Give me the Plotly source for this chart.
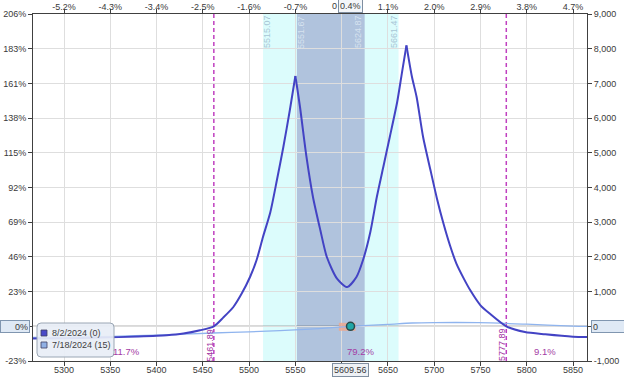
import plotly.graph_objects as go

# ---------------- data ----------------
price_ticks = [5300, 5350, 5400, 5450, 5500, 5550, 5600, 5650, 5700, 5750, 5800, 5850]
pct_ticks = ["-5.2%", "-4.3%", "-3.4%", "-2.5%", "-1.6%", "-0.7%", "", "1.1%", "2.0%", "2.9%", "3.8%", "4.7%"]
pl_ticks = [-1000, 0, 1000, 2000, 3000, 4000, 5000, 6000, 7000, 8000, 9000]
pl_pct_labels = ["-23%", "", "23%", "46%", "69%", "92%", "115%", "138%", "161%", "183%", "206%"]
pl_num_labels = ["-1,000", "", "1,000", "2,000", "3,000", "4,000", "5,000", "6,000", "7,000", "8,000", "9,000"]

# expiration curve 8/2/2024 (0)
exp_price = [5266, 5300, 5339, 5380, 5411, 5429, 5447, 5461.89, 5472, 5483, 5492, 5501, 5508,
             5515, 5523, 5530, 5537, 5544, 5550, 5555, 5562, 5569, 5577, 5584, 5595, 5606,
             5616, 5623, 5631, 5638, 5645, 5652, 5660, 5665, 5670, 5676, 5681, 5688, 5696,
             5703, 5710, 5717, 5724, 5732, 5739, 5750, 5760, 5777.89, 5798, 5820, 5850, 5866]
exp_pl = [-355, -345, -326, -295, -259, -210, -115, 0, 250, 556, 942, 1420, 1902,
          2574, 3295, 4207, 5167, 6225, 7213, 6320, 4880, 3727, 2767, 1997, 1374, 1133,
          1421, 1902, 2718, 3726, 4591, 5455, 6464, 7282, 8098, 7184, 6608, 5455, 4496,
          3679, 2960, 2334, 1807, 1374, 1037, 605, 366, 0, -164, -230, -300, -312]

# today curve 7/18/2024 (15)
t0_price = [5266, 5300, 5353, 5400, 5461, 5500, 5566, 5609.56, 5650, 5676, 5700, 5748, 5800, 5850, 5866]
t0_pl = [-320, -310, -288, -255, -193, -160, -80, 0, 55, 95, 107, 105, 60, 5, -5]

current_price = [5609.56]
current_pl = [0]

breakevens = [5461.89, 5777.89]
be_labels = ["5461.89", "5777.89"]
inner_range = [5551.67, 5624.87]
outer_range = [5515.07, 5661.47]
zone_pct = ["11.7%", "79.2%", "9.1%"]
zone_pct_x = [5368, 5620, 5820]

# ---------------- figure ----------------
W, H = 624, 377
ML, MR, MT, MB = 33, 37, 14, 16
X0, X1 = 5266.5, 5865.1
Y0, Y1 = -1000, 9000
FONT = "Liberation Sans, Arial, sans-serif"
TXT = "#3a3a3a"

fig = go.Figure()

fig.add_trace(go.Scatter(x=t0_price, y=t0_pl, mode="lines", line_shape="spline",
                         line=dict(color="#8fb4ee", width=1.3, smoothing=0.8), showlegend=False,
                         hoverinfo="skip"))
# split the expiration curve at the two peaks so the cusps stay sharp
peak_idx = [i for i in range(1, len(exp_pl) - 1) if exp_pl[i] > exp_pl[i - 1] and exp_pl[i] > exp_pl[i + 1]]
bounds = [0] + peak_idx + [len(exp_pl) - 1]
for a, b in zip(bounds[:-1], bounds[1:]):
    fig.add_trace(go.Scatter(x=exp_price[a:b + 1], y=exp_pl[a:b + 1], mode="lines", line_shape="spline",
                             line=dict(color="#4343c4", width=2, smoothing=0.7), showlegend=False,
                             hoverinfo="skip"))
fig.add_trace(go.Scatter(x=current_price, y=current_pl, mode="markers",
                         marker=dict(color="#1fa7a7", size=8, line=dict(color="#2a4a4a", width=1.5)),
                         showlegend=False, hoverinfo="skip"))
fig.add_trace(go.Scatter(x=[X0, X1], y=[0, 0], xaxis="x2", yaxis="y2", mode="lines",
                         line=dict(width=0), showlegend=False, hoverinfo="skip"))

shapes = []
shapes.append(dict(type="rect", xref="x", yref="paper", x0=outer_range[0], x1=outer_range[1],
                   y0=0, y1=1, fillcolor="#dcfcfc", line=dict(width=0), layer="below"))
shapes.append(dict(type="rect", xref="x", yref="paper", x0=inner_range[0], x1=inner_range[1],
                   y0=0, y1=1, fillcolor="#b0c3dd", line=dict(width=0), layer="below"))
shapes.append(dict(type="rect", xref="x", yref="y", x0=5597, x1=5615, y0=-130, y1=100,
                   fillcolor="#eda88f", opacity=0.85, line=dict(width=0), layer="between"))
shapes.append(dict(type="line", xref="paper", yref="y", x0=0, x1=1, y0=0, y1=0,
                   line=dict(color="#404040", width=1), layer="between"))
for b in breakevens:
    shapes.append(dict(type="line", xref="x", yref="paper", x0=b, x1=b, y0=0, y1=1,
                       line=dict(color="#c040c0", width=1.5, dash="4px,3px"), layer="between"))

def px(xp):
    return (xp - ML) / (W - ML - MR)
def py(yp):
    return (H - MB - yp) / (H - MT - MB)

lx0, lx1, ly0, ly1, r = 37, 114, 323, 357, 4
path = (f"M {px(lx0+r)},{py(ly0)} L {px(lx1-r)},{py(ly0)} Q {px(lx1)},{py(ly0)} {px(lx1)},{py(ly0+r)} "
        f"L {px(lx1)},{py(ly1-r)} Q {px(lx1)},{py(ly1)} {px(lx1-r)},{py(ly1)} "
        f"L {px(lx0+r)},{py(ly1)} Q {px(lx0)},{py(ly1)} {px(lx0)},{py(ly1-r)} "
        f"L {px(lx0)},{py(ly0+r)} Q {px(lx0)},{py(ly0)} {px(lx0+r)},{py(ly0)} Z")
shapes.append(dict(type="path", xref="paper", yref="paper", path=path,
                   fillcolor="rgba(232,238,246,0.92)", line=dict(color="#9aa6b4", width=1), layer="above"))
legend_colors = ["#4a4ac8", "#90b0e4"]
legend_names = ["8/2/2024 (0)", "7/18/2024 (15)"]
legend_y = [333, 345]
for c, yy in zip(legend_colors, legend_y):
    shapes.append(dict(type="rect", xref="paper", yref="paper", x0=px(41), x1=px(47),
                       y0=py(yy + 3), y1=py(yy - 3), fillcolor=c,
                       line=dict(color="#404060", width=0.8), layer="above"))

annotations = []
for n, yy in zip(legend_names, legend_y):
    annotations.append(dict(xref="paper", yref="paper", x=px(50), y=py(yy), text=n,
                            showarrow=False, xanchor="left", yanchor="middle",
                            font=dict(family=FONT, size=9, color="#404040")))

edge_vals = [outer_range[0], inner_range[0], inner_range[1], outer_range[1]]
edge_off = [4.3, 4.4, -7.2, -4.9]
edge_cols = ["#a9c6d6", "#d6e2ef", "#d6e2ef", "#a9c6d6"]
for v, o, c in zip(edge_vals, edge_off, edge_cols):
    annotations.append(dict(xref="x", yref="paper", x=v + o, y=py(32), text=f"{v:.2f}",
                            textangle=-90, showarrow=False, xanchor="center", yanchor="middle",
                            font=dict(family=FONT, size=9, color=c)))
for b, t in zip(breakevens, be_labels):
    annotations.append(dict(xref="x", yref="paper", x=b - 4.5, y=py(345), text=t,
                            textangle=-90, showarrow=False, xanchor="center", yanchor="middle",
                            font=dict(family=FONT, size=9, color="#a030a0")))
for t, xx in zip(zone_pct, zone_pct_x):
    annotations.append(dict(xref="x", yref="paper", x=xx, y=py(351), text=t,
                            showarrow=False, xanchor="center", yanchor="middle",
                            font=dict(family=FONT, size=9.5, color="#a43ca4")))
annotations.append(dict(xref="x", yref="paper", x=current_price[0], y=py(369.5), text="5609.56",
                        showarrow=False, xanchor="center", yanchor="middle",
                        bgcolor="#eef1f5", bordercolor="#7f8ea0", borderwidth=1, borderpad=1,
                        font=dict(family=FONT, size=9, color=TXT)))
annotations.append(dict(xref="x", yref="paper", x=current_price[0], y=py(6.5), text="0.4%",
                        showarrow=False, xanchor="center", yanchor="middle",
                        bgcolor="#f4f6f9", bordercolor="#7f8ea0", borderwidth=1, borderpad=1,
                        font=dict(family=FONT, size=9, color=TXT)))
annotations.append(dict(xref="x", yref="paper", x=5592, y=py(6.5), text="0",
                        showarrow=False, xanchor="center", yanchor="middle",
                        font=dict(family=FONT, size=9, color=TXT)))
annotations.append(dict(xref="paper", yref="y", x=px(0), y=0, text="0%",
                        showarrow=False, xanchor="left", yanchor="middle", width=26, height=9,
                        align="right", bgcolor="#dfe9f5", bordercolor="#8096b0", borderwidth=1, borderpad=1,
                        font=dict(family=FONT, size=9, color=TXT)))
annotations.append(dict(xref="paper", yref="y", x=px(591), y=0, text="0",
                        showarrow=False, xanchor="left", yanchor="middle", width=30, height=9,
                        align="left", bgcolor="#dfe9f5", bordercolor="#8096b0", borderwidth=1, borderpad=1,
                        font=dict(family=FONT, size=9, color=TXT)))

tickfont = dict(family=FONT, size=9, color=TXT)
bottom_text = [str(p) if p != 5600 else "" for p in price_ticks]
common = dict(showline=True, linecolor="#404040", linewidth=1, ticks="outside", ticklen=4,
              tickcolor="#404040", tickfont=tickfont, zeroline=False, automargin=False)

fig.update_layout(
    width=W, height=H,
    margin=dict(l=ML, r=MR, t=MT, b=MB, pad=0, autoexpand=False),
    paper_bgcolor="white", plot_bgcolor="rgba(0,0,0,0)",
    showlegend=False,
    shapes=shapes, annotations=annotations,
    xaxis=dict(range=[X0, X1], tickvals=price_ticks, ticktext=bottom_text,
               showgrid=True, gridcolor="#dedede", gridwidth=1, ticklabelstandoff=-4, **common),
    xaxis2=dict(range=[X0, X1], overlaying="x", side="top", anchor="y",
                tickvals=price_ticks, ticktext=pct_ticks, showgrid=False, ticklabelstandoff=-5, **common),
    yaxis=dict(range=[Y0, Y1], tickvals=pl_ticks, ticktext=pl_pct_labels,
               showgrid=True, gridcolor="#dedede", gridwidth=1, **common),
    yaxis2=dict(range=[Y0, Y1], overlaying="y", side="right", anchor="x",
                tickvals=pl_ticks, ticktext=pl_num_labels, showgrid=False, **common),
)

fig.write_html("out.html")
